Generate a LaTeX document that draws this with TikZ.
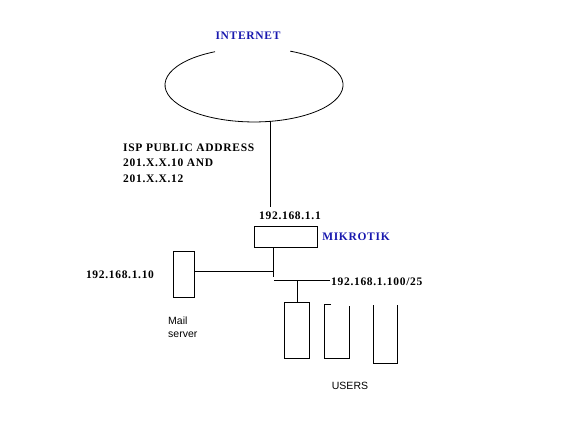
\documentclass[tikz,border=0pt]{standalone}
\usepackage{fontspec}
\setmainfont{Liberation Serif}
\setsansfont{Liberation Sans}
\definecolor{labelblue}{RGB}{25,25,175}
\tikzset{
  ln/.style={line width=0.8pt, black},
  boxn/.style={draw, line width=0.8pt, inner sep=0pt, minimum width=#1},
  iplabel/.style={inner sep=0pt, font=\fontsize{11.5}{15.5}\selectfont\bfseries\addfontfeature{LetterSpace=6}},
  bluelabel/.style={iplabel, text=labelblue},
  sanslabel/.style={inner sep=0pt, font=\fontsize{10.5}{13}\selectfont\sffamily}
}
\begin{document}
\begin{tikzpicture}[x=1pt,y=1pt]
\useasboundingbox[fill=white] (0,0) rectangle (576,432);
% Internet cloud (ellipse with gap for label)
\node[bluelabel] (inet) at (248,396) {INTERNET};
\draw[ln] (215,380.3) arc[start angle=116, end angle=426, x radius=89pt, y radius=37pt];
\coordinate (inetbot) at (270,310.6);
% ISP text
\node[iplabel, anchor=west, align=left] (isp) at (123,269) {ISP PUBLIC ADDRESS\\201.X.X.10 AND\\201.X.X.12};
% Router
\node[iplabel] (rip) at (290,216) {192.168.1.1};
\coordinate (rtop) at (270,225);
\draw[ln] (inetbot) -- (rtop);
\node[boxn=63pt, minimum height=21pt] (router) at (285.5,195.5) {};
\node[bluelabel] (mk) at (356,195) {MIKROTIK};
% Mail server
\node[boxn=21pt, minimum height=46pt] (mail) at (183.5,158) {};
\node[iplabel] (mailip) at (120,157) {192.168.1.10};
\node[sanslabel, anchor=west, align=left] (mailtxt) at (168,104.5) {Mail\\server};
% Links
\coordinate (rb) at (273,185);
\coordinate (rj) at (273,155);
\coordinate (mj) at (273,161);
\draw[ln] (rb) -- (rj);
\draw[ln] (mail.east |- mj) -- (mj);
\coordinate (hs) at (274,152);
\coordinate (he) at (330,152);
\draw[ln] (hs) -- (he);
\node[iplabel, anchor=west] (usip) at (331,150) {192.168.1.100/25};
% Users
\node[boxn=25pt, minimum height=56pt] (u1) at (296.5,102) {};
\coordinate (u1j) at (297.5,152);
\draw[ln] (u1j) -- (u1j |- u1.north);
\draw[ln] (331,128) -- (324,128) -- (324,74) -- (349,74) -- (349,126);
\draw[ln] (373,127) -- (373,69) -- (397,69) -- (397,127);
\node[sanslabel] (users) at (350,46) {USERS};
\end{tikzpicture}
\end{document}
